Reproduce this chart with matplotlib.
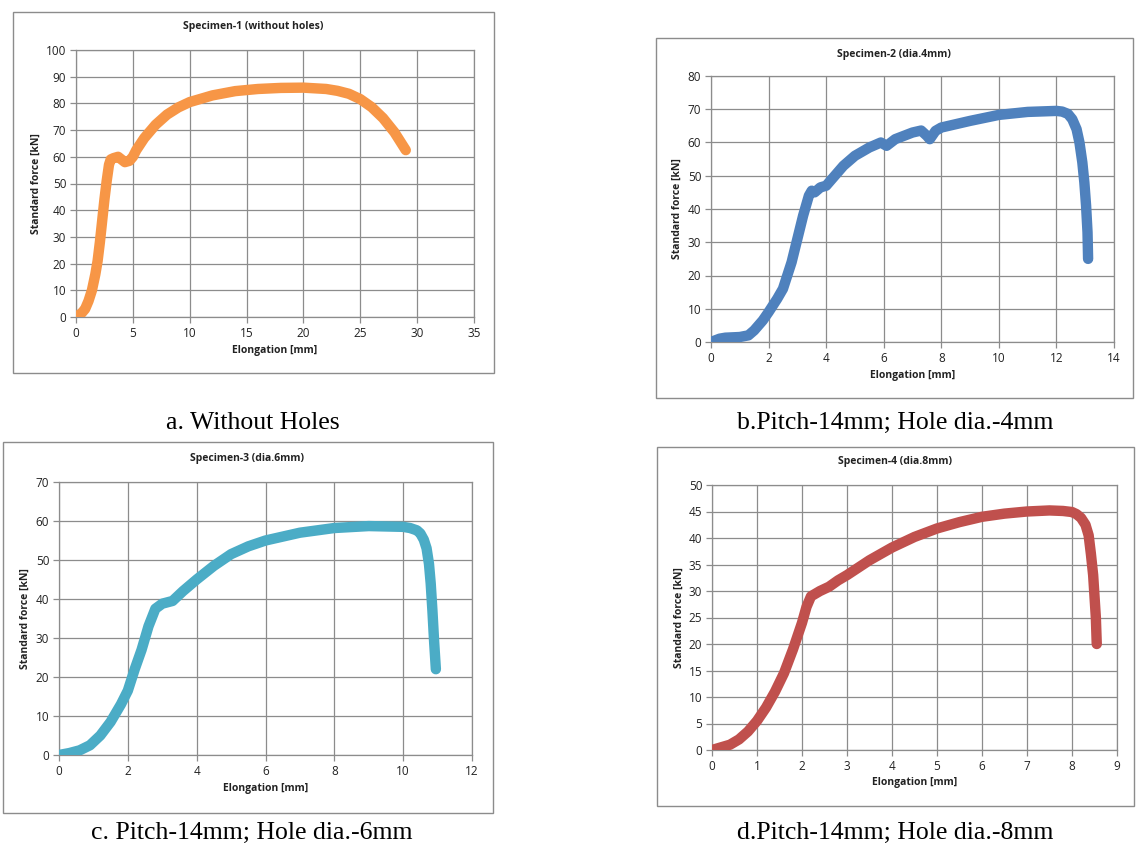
import numpy as np
import matplotlib
matplotlib.use("Agg")
from matplotlib import pyplot as plt
from matplotlib.patches import Rectangle

W, H = 1145, 848

# specimen 1 - without holes
x1 = [0, 0.5, 0.8, 1.1, 1.4, 1.7, 1.9, 2.1, 2.3, 2.5, 2.7, 2.9, 3.05, 3.3, 3.7, 4.0, 4.3, 4.7, 5.0, 5.3, 6, 7, 8, 9, 10, 12, 14, 16, 18, 20, 22, 23, 24, 25, 26, 27, 28, 29]
y1 = [0, 1.5, 3, 6, 10, 16, 21, 28, 36, 44, 51, 57, 59, 59.5, 60, 59, 58, 58.5, 60, 62.5, 67, 72, 75.8, 78.5, 80.5, 83, 84.6, 85.4, 85.8, 85.9, 85.4, 84.7, 83.6, 81.6, 78.6, 74.5, 69.2, 62.5]

# specimen 2 - dia 4mm
x2 = [0, 0.3, 0.5, 1.0, 1.3, 1.5, 1.8, 2.0, 2.3, 2.5, 2.8, 3.0, 3.2, 3.4, 3.5, 3.6, 3.8, 4.0, 4.3, 4.6, 5.0, 5.5, 5.9, 6.1, 6.4, 7.0, 7.3, 7.5, 7.6, 7.8, 8.0, 9, 10, 11, 12, 12.2, 12.4, 12.55, 12.7, 12.8, 12.9, 12.97, 13.03, 13.08, 13.1]
y2 = [0, 1, 1.3, 1.5, 2, 3.5, 6.5, 9, 13, 16, 24, 31, 38, 44, 45.5, 45, 46.5, 47, 50, 53, 56, 58.5, 60, 59, 61, 63, 63.6, 62, 61, 63.5, 64.5, 66.5, 68.3, 69.2, 69.5, 69.3, 68.6, 67, 64, 60, 54, 48, 41, 33, 25]

# specimen 3 - dia 6mm
x3 = [0, 0.3, 0.6, 0.9, 1.2, 1.5, 1.8, 2.0, 2.2, 2.4, 2.6, 2.8, 3.0, 3.3, 3.6, 4.0, 4.5, 5.0, 5.5, 6, 7, 8, 9, 10, 10.2, 10.4, 10.5, 10.6, 10.68, 10.75, 10.8, 10.85, 10.9, 10.95]
y3 = [0, 0.5, 1.2, 2.5, 5, 8.5, 13, 16.5, 22, 27, 33, 37.5, 38.8, 39.5, 42, 45, 48.5, 51.5, 53.5, 55, 57, 58.2, 58.7, 58.5, 58.2, 57.6, 56.8, 55.2, 53, 49, 44, 37, 29, 22]

# specimen 4 - dia 8mm
x4 = [0, 0.2, 0.4, 0.6, 0.8, 1.0, 1.2, 1.4, 1.6, 1.8, 2.0, 2.1, 2.2, 2.4, 2.6, 2.8, 3.0, 3.5, 4.0, 4.5, 5.0, 5.5, 6, 6.5, 7, 7.5, 7.8, 8.0, 8.1, 8.2, 8.3, 8.37, 8.42, 8.47, 8.5, 8.53, 8.55]
y4 = [0, 0.5, 1, 2, 3.5, 5.5, 8, 11, 14.5, 19, 24, 27, 29, 30, 30.8, 32, 33, 35.8, 38.2, 40.2, 41.8, 43, 44, 44.6, 45, 45.2, 45.1, 44.9, 44.5, 43.8, 42.5, 40.5, 37, 33, 29, 25, 20]

titles = ['Specimen-1 (without holes)', 'Specimen-2 (dia.4mm)', 'Specimen-3 (dia.6mm)', 'Specimen-4 (dia.8mm)']
captions = ['a. Without Holes', 'b.Pitch-14mm; Hole dia.-4mm', 'c. Pitch-14mm; Hole dia.-6mm', 'd.Pitch-14mm; Hole dia.-8mm']
colors = ['#F79646', '#4F81BD', '#4BACC6', '#C0504D']
xlims = [(0, 35, 5), (0, 14, 2), (0, 12, 2), (0, 9, 1)]
ylims = [(0, 100, 10), (0, 80, 10), (0, 70, 10), (0, 50, 5)]

# pixel layout: plot area, outer frame, title / label / caption spots
plot_px = [(76, 474, 50, 317), (711, 1114, 76, 342), (59, 472, 482, 755), (712, 1117, 485, 750)]
frame_px = [(13, 494, 12, 373), (656, 1133, 38, 398), (3, 493, 442, 813), (657, 1134, 447, 806)]
title_px = [(253, 27), (894, 54), (247, 459), (895, 462)]
ylab_px = [36, 677, 25, 679]
xlab_px = [351, 375, 789, 783]
cap_px = [(253, 423), (895, 423), (252, 833), (895, 833)]

data = [(x1, y1), (x2, y2), (x3, y3), (x4, y4)]

ui = 'Open Sans'
fig = plt.figure(figsize=(W / 100, H / 100), dpi=100)

def fx(px):
    return px / W

def fy(py):
    return 1 - py / H

for i in range(4):
    l, r, t, b = plot_px[i]
    ax = fig.add_axes([fx(l), fy(b), (r - l) / W, (b - t) / H])
    xs, ys = data[i]
    ax.plot(xs, ys, color=colors[i], lw=7.5, solid_capstyle='round', solid_joinstyle='round', zorder=3)
    x0, xm, xs_ = xlims[i]
    y0, ym, ys_ = ylims[i]
    ax.set_xlim(x0, xm)
    ax.set_ylim(y0, ym)
    ax.set_xticks(np.arange(x0, xm + 0.01, xs_))
    ax.set_yticks(np.arange(y0, ym + 0.01, ys_))
    ax.grid(True, color='#8c8c8c', lw=0.9)
    ax.set_axisbelow(True)
    for s in ax.spines.values():
        s.set_color('#8c8c8c')
        s.set_linewidth(0.9)
    ax.tick_params(colors='#8c8c8c', length=4, width=0.9, labelcolor='#222222', labelsize=8.5, pad=3)
    for lab in ax.get_xticklabels() + ax.get_yticklabels():
        lab.set_family(ui)
    fl, fr, ft, fb = frame_px[i]
    fig.patches.append(Rectangle((fx(fl), fy(fb)), (fr - fl) / W, (fb - ft) / H, transform=fig.transFigure,
                                 fill=False, edgecolor='#8c8c8c', lw=1.0))
    fig.text(fx(title_px[i][0]), fy(title_px[i][1]), titles[i], ha='center', va='center',
             fontsize=7.5, fontweight='bold', family=ui, color='#222222')
    fig.text(fx(ylab_px[i]), fy((t + b) / 2), 'Standard force [kN]', rotation=90, ha='center', va='center',
             fontsize=7.5, fontweight='bold', family=ui, color='#222222')
    fig.text(fx((l + r) / 2), fy(xlab_px[i]), 'Elongation [mm]', ha='center', va='center',
             fontsize=7.5, fontweight='bold', family=ui, color='#222222')
    fig.text(fx(cap_px[i][0]), fy(cap_px[i][1]), captions[i], ha='center', va='center',
             fontsize=18.5, family='Liberation Serif', color='black')

fig.savefig('out.png', dpi=100)
